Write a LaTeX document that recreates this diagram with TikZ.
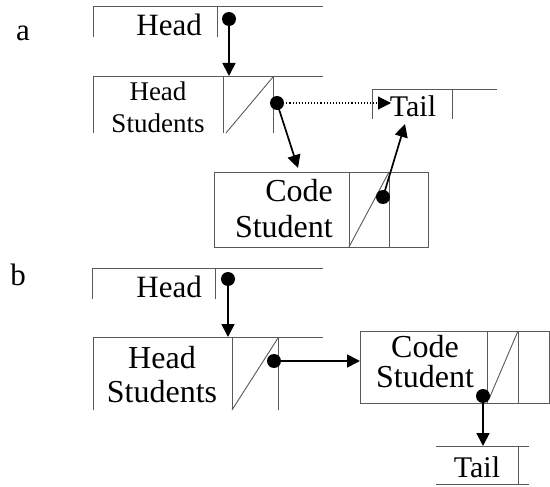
\documentclass[tikz,border=0pt]{standalone}
\usepackage{fontspec}
\setmainfont{Liberation Serif}
\usetikzlibrary{arrows.meta}
\begin{document}
\begin{tikzpicture}[x=1pt,y=-1pt,
  boxline/.style={draw=black!65,line width=0.9pt},
  link/.style={draw=black,line width=1.7pt,-{Triangle[width=13pt,length=13pt]}},
  dotlink/.style={draw=black,line width=1.1pt,dotted,-{Triangle[width=13pt,length=13pt]}},
  ptr/.style={fill=black},
  lbl/.style={inner sep=0pt,font=\fontsize{#1}{#1}\selectfont},
  lbl/.default=31]
\useasboundingbox (0,0) rectangle (550,487);
% ---------- part a ----------
\node[lbl,anchor=base] (la) at (23,41) {a};
% Head box
\draw[boxline] (93,37) -- (93,6) -- (323,6);
\draw[boxline] (217,6) -- (217,37);
\node[lbl=31,anchor=base east] (ahead) at (202,36) {Head};
% Head Students box
\draw[boxline] (93,133) -- (93,76) -- (323,76);
\draw[boxline] (223,76) -- (223,133);
\draw[boxline] (273,76) -- (273,133);
\draw[boxline] (226,133) -- (273,77);
\node[lbl=27,anchor=base] (ahs1) at (158,101) {Head};
\node[lbl=27,anchor=base] (ahs2) at (158,132) {Students};
% Tail box
\draw[boxline] (372,119) -- (372,89) -- (497,89);
\draw[boxline] (452,89) -- (452,119);
\node[lbl=30,anchor=base] (atail) at (413,117) {Tail};
% Code Student box
\draw[boxline] (214,172) rectangle (428,247);
\draw[boxline] (349,172) -- (349,247);
\draw[boxline] (389,172) -- (389,247);
\draw[boxline] (349,247) -- (389,172);
\node[lbl=32,anchor=base east] (acs1) at (333,202) {Code};
\node[lbl=32,anchor=base east] (acs2) at (333,237) {Student};
% pointers
\coordinate (ap1) at (229,19);
\coordinate (at1) at (229,76);
\coordinate (ap2) at (277,103);
\coordinate (at2) at (391,103);
\coordinate (at3) at (298,168);
\coordinate (ap3) at (383,197);
\coordinate (at4) at (405,124);
\draw[link] (ap1) -- (at1);
\draw[dotlink] (ap2) -- (at2);
\draw[link] (ap2) -- (at3);
\draw[link] (ap3) -- (at4);
\fill[ptr] (ap1) circle (7);
\fill[ptr] (ap2) circle (7);
\fill[ptr] (ap3) circle (7);
% ---------- part b ----------
\node[lbl,anchor=base] (lb) at (18,285) {b};
% Head box
\draw[boxline] (92,299) -- (92,268) -- (323,268);
\draw[boxline] (215,268) -- (215,299);
\node[lbl=31,anchor=base east] (bhead) at (202,298) {Head};
% Head Students box
\draw[boxline] (93,410) -- (93,337) -- (323,337);
\draw[boxline] (232,337) -- (232,410);
\draw[boxline] (278,337) -- (278,410);
\draw[boxline] (232,410) -- (278,338);
\node[lbl=32,anchor=base] (bhs1) at (162,368) {Head};
\node[lbl=32,anchor=base] (bhs2) at (162,402) {Students};
% Code Student box
\draw[boxline] (360,331) rectangle (549,403);
\draw[boxline] (487,331) -- (487,403);
\draw[boxline] (518,331) -- (518,403);
\draw[boxline] (489,399) -- (518,331);
\node[lbl=32,anchor=base] (bcs1) at (425,357) {Code};
\node[lbl=32,anchor=base] (bcs2) at (425,387) {Student};
% Tail box
\draw[boxline] (436,446) -- (529,446);
\draw[boxline] (436,484) -- (529,484);
\draw[boxline] (518,446) -- (518,484);
\node[lbl=30,anchor=base] (btail) at (477,477) {Tail};
% pointers
\coordinate (bp1) at (228,279);
\coordinate (bt1) at (228,337);
\coordinate (bp2) at (274,361);
\coordinate (bt2) at (360,361);
\coordinate (bp3) at (483,396);
\coordinate (bt3) at (483,446);
\draw[link] (bp1) -- (bt1);
\draw[link] (bp2) -- (bt2);
\draw[link] (bp3) -- (bt3);
\fill[ptr] (bp1) circle (7);
\fill[ptr] (bp2) circle (7);
\fill[ptr] (bp3) circle (7);
\end{tikzpicture}
\end{document}
